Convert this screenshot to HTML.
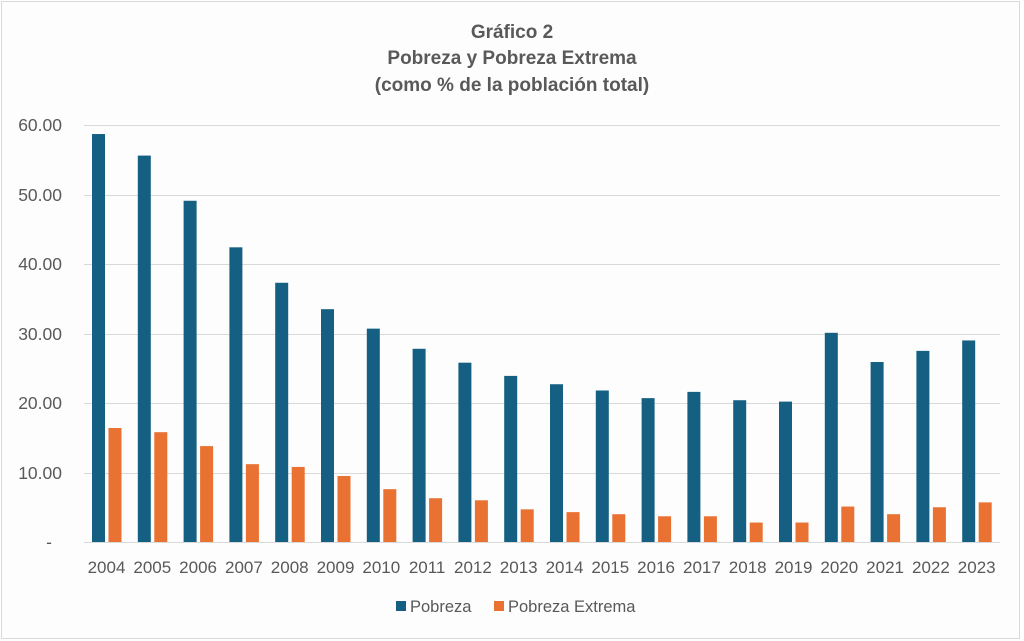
<!DOCTYPE html>
<html><head><meta charset="utf-8"><style>
html,body{margin:0;padding:0;background:#fff;}
svg{display:block;font-family:"Liberation Sans",sans-serif;}
</style></head><body>
<svg width="1024" height="641" viewBox="0 0 1024 641">
<rect x="1.5" y="1.5" width="1018" height="637" fill="#fdfdfd" stroke="#d9d9d9"/>
<g font-weight="bold" fill="#595959" font-size="19" text-anchor="middle">
<text x="512" y="38">Gráfico  2</text>
<text x="512" y="64">Pobreza y Pobreza Extrema</text>
<text x="512" y="91">(como % de la población total)</text>
</g>
<g stroke="#d9d9d9" stroke-width="1">
<line x1="84" x2="1000" y1="125.5" y2="125.5"/>
<line x1="84" x2="1000" y1="195.5" y2="195.5"/>
<line x1="84" x2="1000" y1="264.5" y2="264.5"/>
<line x1="84" x2="1000" y1="334.5" y2="334.5"/>
<line x1="84" x2="1000" y1="403.5" y2="403.5"/>
<line x1="84" x2="1000" y1="473.5" y2="473.5"/>
<line x1="84" x2="1000" y1="542.5" y2="542.5"/>
</g>
<g fill="#595959" font-size="17.5" text-anchor="end">
<text x="62" y="131">60.00</text>
<text x="62" y="201">50.00</text>
<text x="62" y="270">40.00</text>
<text x="62" y="340">30.00</text>
<text x="62" y="409">20.00</text>
<text x="62" y="479">10.00</text>
<text x="52" y="548">-</text>
</g>
<g id="bars"></g>
<g fill="#595959" font-size="17" text-anchor="middle" id="xl"></g>
<rect x="396" y="601" width="10" height="10" fill="#156082"/>
<text x="410" y="612" font-size="16.5" fill="#595959">Pobreza</text>
<rect x="494" y="601" width="10" height="10" fill="#e97132"/>
<text x="508" y="612" font-size="16.5" fill="#595959">Pobreza Extrema</text>
</svg>
<script>
var p=[58.7,55.6,49.1,42.4,37.3,33.5,30.7,27.8,25.8,23.9,22.7,21.8,20.7,21.6,20.4,20.2,30.1,25.9,27.5,29.0];
var e=[16.4,15.8,13.8,11.2,10.8,9.5,7.6,6.3,6.0,4.7,4.3,4.0,3.7,3.7,2.8,2.8,5.1,4.0,5.0,5.7];
var ns="http://www.w3.org/2000/svg",b=document.getElementById("bars"),xl=document.getElementById("xl");
function r(x,v,c){var h=v*6.95,el=document.createElementNS(ns,"rect");el.setAttribute("x",x);el.setAttribute("y",542-h);el.setAttribute("width",13);el.setAttribute("height",h);el.setAttribute("fill",c);b.appendChild(el);}
for(var i=0;i<20;i++){var s=84+45.8*i;r(s+8,p[i],"#156082");r(s+24.5,e[i],"#e97132");
var t=document.createElementNS(ns,"text");t.setAttribute("x",s+22.5);t.setAttribute("y",573);t.textContent=2004+i;xl.appendChild(t);}
</script>
</body></html>
